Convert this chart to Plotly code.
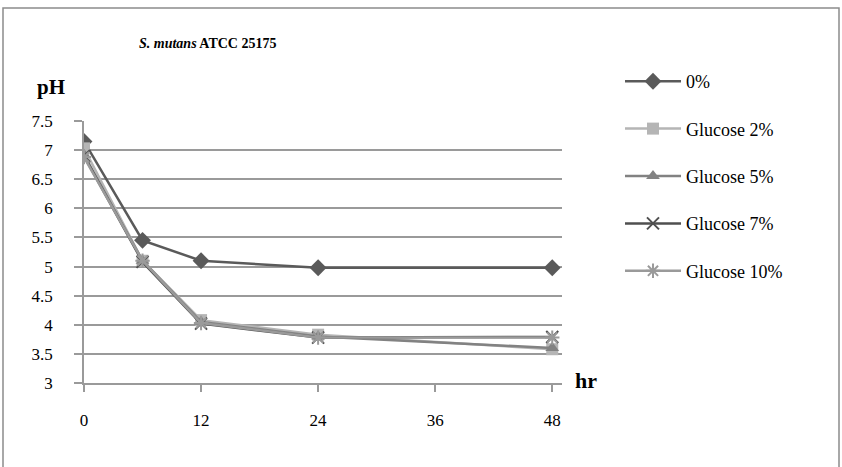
import plotly.graph_objects as go

# Sampling times (hours) and measured pH for each glucose concentration
hours = [0, 6, 12, 24, 48]
ph_0 = [7.15, 5.45, 5.10, 4.98, 4.98]
ph_glc2 = [7.03, 5.10, 4.08, 3.83, 3.58]
ph_glc5 = [6.92, 5.10, 4.05, 3.80, 3.60]
ph_glc7 = [6.90, 5.08, 4.02, 3.78, 3.79]
ph_glc10 = [6.88, 5.10, 4.03, 3.78, 3.78]

series_names = ["0%", "Glucose 2%", "Glucose 5%", "Glucose 7%", "Glucose 10%"]
x_ticks = [0, 12, 24, 36, 48]
y_ticks = [3, 3.5, 4, 4.5, 5, 5.5, 6, 6.5, 7, 7.5]

FONT = "Liberation Serif, Times New Roman, serif"
W, H = 842, 467
L, R, T, B = 84, 562, 121, 383  # plot-area edges in pixels

styles = [
    dict(color="#5a5a5a", symbol="diamond", size=13, lw=0),
    dict(color="#b5b5b5", symbol="square", size=12, lw=0),
    dict(color="#828282", symbol="triangle-up", size=12, lw=0),
    dict(color="#4f4f4f", symbol="x-thin-open", size=12, lw=2),
    dict(color="#9a9a9a", symbol="asterisk-open", size=12, lw=2),
]
data = [ph_0, ph_glc2, ph_glc5, ph_glc7, ph_glc10]

fig = go.Figure()
for i, (name, ys, st) in enumerate(zip(series_names, data, styles)):
    fig.add_trace(go.Scatter(
        x=hours, y=ys, name=name, mode="lines+markers",
        legendgroup=f"g{i}",
        line=dict(color=st["color"], width=2.5),
        marker=dict(symbol=st["symbol"], size=st["size"], color=st["color"],
                    line=dict(color=st["color"], width=st["lw"])),
    ))

pw, ph = R - L, B - T


def dx(px):
    return (px - L) / pw


def dy(py):
    return (B - py) / ph


fig.update_layout(
    width=W, height=H,
    margin=dict(l=L, r=W - R, t=T, b=H - B, pad=0),
    paper_bgcolor="white", plot_bgcolor="white",
    font=dict(family=FONT, size=17, color="#000000"),
    showlegend=True,
    legend=dict(
        x=dx(620), y=dy(63), xanchor="left", yanchor="top",
        font=dict(family=FONT, size=18, color="#000000"),
        itemwidth=56, tracegroupgap=21, maxheight=1,
        bgcolor="rgba(0,0,0,0)",
    ),
    xaxis=dict(
        range=[0, 49], tickvals=x_ticks, ticktext=[str(v) for v in x_ticks],
        showgrid=False, zeroline=False,
        showline=True, linecolor="#9a9a9a", linewidth=1.5,
        ticks="outside", ticklen=7, tickcolor="#9a9a9a", tickwidth=1.5,
        ticklabelstandoff=14,
        tickfont=dict(family=FONT, size=17, color="#000000"),
    ),
    yaxis=dict(
        range=[3, 7.5], tickvals=y_ticks,
        ticktext=[f"{v:g}" for v in y_ticks],
        showgrid=True, gridcolor="#9a9a9a", gridwidth=1.5,
        zeroline=False,
        showline=True, linecolor="#9a9a9a", linewidth=1.5,
        ticks="outside", ticklen=8, tickcolor="#9a9a9a", tickwidth=1.5,
        ticklabelstandoff=18,
        tickfont=dict(family=FONT, size=17, color="#000000"),
    ),
    shapes=[
        dict(type="rect", xref="paper", yref="paper",
             x0=dx(3), x1=dx(839), y0=dy(475), y1=dy(8),
             line=dict(color="#8c8c8c", width=1.5), layer="below"),
    ],
    annotations=[
        dict(text="<b><i>S. mutans</i> ATCC 25175</b>", xref="paper", yref="paper",
             x=dx(207), y=dy(43), xanchor="center", yanchor="middle",
             showarrow=False, font=dict(family=FONT, size=14, color="#000000")),
        dict(text="<b>pH</b>", xref="paper", yref="paper",
             x=dx(51), y=dy(87), xanchor="center", yanchor="middle",
             showarrow=False, font=dict(family=FONT, size=21, color="#000000")),
        dict(text="<b>hr</b>", xref="paper", yref="paper",
             x=dx(586), y=dy(380), xanchor="center", yanchor="middle",
             showarrow=False, font=dict(family=FONT, size=22, color="#000000")),
    ],
)

fig.write_html("out.html")
